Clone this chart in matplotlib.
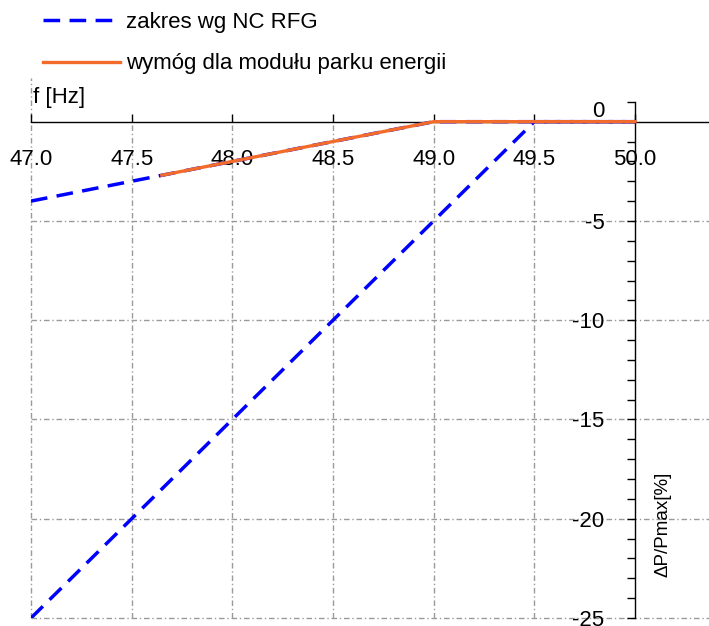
import matplotlib
matplotlib.use("Agg")
import matplotlib.pyplot as plt
from matplotlib.ticker import FixedLocator

plt.rcParams['font.family'] = ['Liberation Sans', 'DejaVu Sans']

# data
nc_low_x = [47.0, 49.5, 50.0]
nc_low_y = [-25.0, 0.0, 0.0]
nc_up_x = [47.0, 49.0, 50.0]
nc_up_y = [-4.0, 0.0, 0.0]
req_x = [47.65, 49.0, 50.0]
req_y = [-2.7, 0.0, 0.0]
x_ticks = [47.0, 47.5, 48.0, 48.5, 49.0, 49.5, 50.0]
x_labels = ["47.0", "47.5", "48.0", "48.5", "49.0", "49.5", "50.0"]
y_ticks = [0, -5, -10, -15, -20, -25]
y_labels = ["0", "-5", "-10", "-15", "-20", "-25"]
y_minor = list(range(-25, 2))

FS = 16
W, H = 709, 626
fig = plt.figure(figsize=(W / 100, H / 100), dpi=100)
ax = fig.add_axes([31 / W, 8 / H, 1 - 31 / W, (618 - 78) / H])
ax.set_xlim(47.0, 50.0 + (709 - 635) / 201.3)
ax.set_ylim(-25, 2.2)

grid_kw = dict(color='#9a9a9a', linewidth=1.0, linestyle=(0, (4, 2, 1, 2)), zorder=1)
for yv in y_ticks[1:]:
    ax.axhline(yv, clip_on=False, **grid_kw)
for xv in x_ticks[1:-1]:
    ax.vlines(xv, -25, 0, **grid_kw)
ax.axvline(x_ticks[0], clip_on=False, **grid_kw)

blue = '#0000FF'
orange = '#F26B2A'
dash = (0, (4.8, 2.7))
ln1, = ax.plot(nc_low_x, nc_low_y, color=blue, lw=2.5, linestyle=dash, zorder=3,
               label='zakres wg NC RFG')
ax.plot(nc_up_x, nc_up_y, color=blue, lw=2.5, linestyle=dash, zorder=3)
ln2, = ax.plot(req_x, req_y, color=orange, lw=2.4, zorder=4,
               label='wymóg dla modułu parku energii')

for s in ['top', 'right']:
    ax.spines[s].set_visible(False)
ax.spines['bottom'].set_position(('data', 0))
ax.spines['bottom'].set_color('black')
ax.spines['bottom'].set_linewidth(1.0)
ax.spines['left'].set_position(('data', 50.0))
ax.spines['left'].set_bounds(-25, 1)
ax.spines['left'].set_linewidth(1.0)

ax.set_xticks(x_ticks)
ax.set_xticklabels(x_labels, fontsize=FS)
ax.tick_params(axis='x', direction='in', length=6, width=1, pad=20)
ax.set_yticks(y_ticks)
ax.set_yticklabels(y_labels, fontsize=FS)
ax.yaxis.set_minor_locator(FixedLocator(y_minor))
ax.tick_params(axis='y', which='both', direction='out', length=6, width=1, pad=16)
for t in ax.get_yticklabels():
    if t.get_text() == "0":
        t.set_va('bottom')

fig.text(33 / W, 1 - 97 / H, 'f [Hz]', fontsize=FS, va='center', ha='left')
fig.text(663 / W, 1 - 524 / H, 'ΔP/Pmax[%]', fontsize=13.5, rotation=90,
         va='center', ha='center')

fig.legend(handles=[ln1, ln2], loc='upper left', bbox_to_anchor=(43 / W, 1 - 12 / H),
           frameon=False, fontsize=FS, handlelength=3.45, handletextpad=0.3,
           labelspacing=0.92, borderpad=0, borderaxespad=0)

fig.savefig('out.png', dpi=100)
